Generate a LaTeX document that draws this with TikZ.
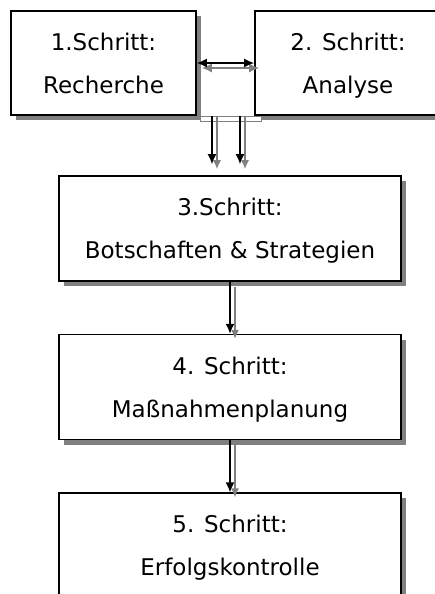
\documentclass[tikz,border=0pt]{standalone}
\usepackage{fontspec}
\setmainfont{DejaVu Sans}
\usetikzlibrary{shadows,positioning,arrows.meta}
\definecolor{shadowgray}{RGB}{128,128,128}
\newcommand{\steplines}[2]{\raisebox{-5pt}{\begin{tabular}{@{}c@{}}#1\\#2\end{tabular}}}

\begin{document}
\begin{tikzpicture}[x=1pt,y=-1pt,inner sep=0pt]
\tikzstyle{box}=[rectangle, draw=black, line width=1.6pt, fill=white,
  font=\fontsize{23}{43}\selectfont,
  drop shadow={shadow xshift=5pt, shadow yshift=-5pt, fill=shadowgray, opacity=1}]
\tikzstyle{connect}=[-{Latex[length=10pt,width=9pt]}, line width=1.6pt, black]
\tikzstyle{shade}=[-{Latex[length=9pt,width=8pt]}, line width=1.4pt, shadowgray]
\tikzstyle{both}=[{Latex[length=10pt,width=9pt]}-{Latex[length=10pt,width=9pt]}]
\useasboundingbox (0,0) rectangle (434,594);
\node[box, minimum width=185pt, minimum height=104pt] (recherche) at (103.5,63) {\steplines{1.Schritt:}{Recherche}};
\node[box, minimum width=186pt, minimum height=104pt] (analyse) at (348,63) {\steplines{2. Schritt:}{Analyse}};
\node[box, minimum width=342pt, minimum height=105pt] (botschaften) at (230,228.5) {\steplines{3.Schritt:}{Botschaften \& Strategien}};
\node[box, minimum width=342pt, minimum height=105pt] (massnahmen) [below=52pt of botschaften] {\steplines{4. Schritt:}{Maßnahmenplanung}};
\node[box, minimum width=342pt, minimum height=105pt] (erfolg) [below=52pt of massnahmen] {\steplines{5. Schritt:}{Erfolgskontrolle}};
\node[rectangle, draw=shadowgray, line width=0.8pt, fill=white, minimum width=61pt, minimum height=5pt] (fork) at (230.5,118.5) {};
% Recherche <-> Analyse
\draw[shade,both] ([shift={(5,5)}]recherche.east) -- ([shift={(5,5)}]analyse.west);
\draw[connect,both] (recherche.east) -- (analyse.west);
% fork down to step 3
\coordinate (ta) at ([xshift=-18.5pt,yshift=11pt]botschaften.north -| fork.north);
\coordinate (tb) at ([xshift=9.5pt,yshift=11pt]botschaften.north -| fork.north);
\draw[shade] ([shift={(5,0)}]ta |- fork.north) -- ([shift={(5,5)}]ta);
\draw[shade] ([shift={(5,0)}]tb |- fork.north) -- ([shift={(5,5)}]tb);
\draw[connect] (ta |- fork.north) -- (ta);
\draw[connect] (tb |- fork.north) -- (tb);
% step 3 -> 4 -> 5
\draw[shade] ([shift={(5,5)}]botschaften.south) -- ([shift={(5,5)}]massnahmen.north);
\draw[connect] (botschaften.south) -- (massnahmen.north);
\draw[shade] ([shift={(5,5)}]massnahmen.south) -- ([shift={(5,5)}]erfolg.north);
\draw[connect] (massnahmen.south) -- (erfolg.north);
\end{tikzpicture}
\end{document}
